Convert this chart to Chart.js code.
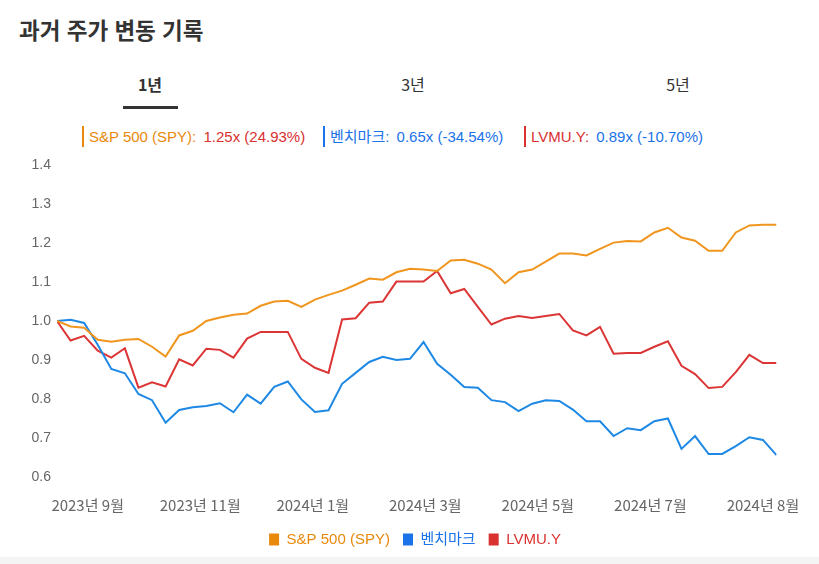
<!DOCTYPE html>
<html lang="ko">
<head>
<meta charset="utf-8">
<script src="https://cdn.jsdelivr.net/npm/chart.js@4.4.1/dist/chart.umd.min.js"></script>
<style>
  html, body { margin: 0; padding: 0; background: #fff; }
  body { width: 819px; height: 564px; position: relative; overflow: hidden; font-family: "Liberation Sans", Arial, "Noto Sans CJK KR", sans-serif; }
  #title { position: absolute; left: 19px; top: 13px; font-family: "Noto Sans CJK KR", sans-serif; font-weight: 700; font-size: 22.5px; color: #333; }
  .tab { position: absolute; top: 72px; font-family: "Noto Sans CJK KR", sans-serif; font-size: 16px; color: #333; transform: translateX(-50%); }
  .tab.active { font-weight: 700; }
  #underline { position: absolute; left: 123px; top: 106px; width: 55px; height: 3px; background: #333; }
  #header { position: absolute; top: 126px; left: 0; height: 21px; }
  .hitem { position: absolute; top: 0; height: 21px; white-space: nowrap; font-size: 15px; line-height: 21px; padding-left: 7px; }
  .hitem .val { margin-left: 3px; }
  .hbar { position: absolute; left: 0; top: 0; width: 2px; height: 21px; }
  #wrap { position: absolute; left: 0; top: 150px; width: 819px; height: 407px; }
  #band { position: absolute; left: 0; top: 557px; width: 819px; height: 7px; background: #f4f4f4; }
</style>
</head>
<body>
<div id="title">과거 주가 변동 기록</div>
<div class="tab active" style="left:150px">1년</div>
<div class="tab" style="left:413px">3년</div>
<div class="tab" style="left:678px">5년</div>
<div id="underline"></div>
<div id="header"></div>
<div id="wrap"><canvas id="c"></canvas></div>
<div id="band"></div>
<script>
// ---- data ----
const seriesNames = ["S&P 500 (SPY)", "벤치마크", "LVMU.Y"];
const headerValues = ["1.25x (24.93%)", "0.65x (-34.54%)", "0.89x (-10.70%)"];
const tickLabels = ["2023년 9월", "2023년 11월", "2024년 1월", "2024년 3월", "2024년 5월", "2024년 7월", "2024년 8월"];
const tickPositions = [2.26, 10.55, 18.84, 27.13, 35.42, 43.71, 52.0];

const spy = [1.000, 0.986, 0.983, 0.952, 0.947, 0.952, 0.954, 0.934, 0.909, 0.963,
  0.975, 1.000, 1.009, 1.016, 1.019, 1.039, 1.050, 1.052, 1.036, 1.055,
  1.067, 1.078, 1.093, 1.109, 1.106, 1.125, 1.134, 1.132, 1.128, 1.155,
  1.157, 1.147, 1.132, 1.097, 1.125, 1.132, 1.152, 1.173, 1.173, 1.168,
  1.185, 1.201, 1.205, 1.204, 1.227, 1.239, 1.214, 1.206, 1.180, 1.180,
  1.227, 1.245, 1.247, 1.247];
const benchmark = [1.000, 1.003, 0.995, 0.939, 0.877, 0.866, 0.813, 0.797, 0.739, 0.772,
  0.779, 0.782, 0.789, 0.766, 0.811, 0.788, 0.831, 0.845, 0.799, 0.767,
  0.771, 0.839, 0.867, 0.895, 0.908, 0.900, 0.903, 0.946, 0.890, 0.862,
  0.831, 0.829, 0.797, 0.792, 0.769, 0.788, 0.797, 0.795, 0.773, 0.743,
  0.743, 0.705, 0.725, 0.720, 0.743, 0.750, 0.672, 0.705, 0.659, 0.659,
  0.679, 0.702, 0.695, 0.656];
const lvmuy = [1.000, 0.950, 0.962, 0.924, 0.906, 0.930, 0.829, 0.843, 0.832, 0.902,
  0.886, 0.929, 0.926, 0.906, 0.955, 0.972, 0.972, 0.972, 0.903, 0.880,
  0.867, 1.004, 1.007, 1.047, 1.050, 1.101, 1.101, 1.101, 1.128, 1.071,
  1.082, 1.036, 0.991, 1.006, 1.013, 1.008, 1.013, 1.018, 0.976, 0.963,
  0.985, 0.916, 0.918, 0.918, 0.934, 0.948, 0.885, 0.864, 0.828, 0.831,
  0.869, 0.913, 0.892, 0.892];
const yTicks = [0.6, 0.7, 0.8, 0.9, 1.0, 1.1, 1.2, 1.3, 1.4];

// ---- styling ----
const lineColors = ["#F0961E", "#1E88E5", "#DC3535"];
const legendColors = ["#E8890C", "#1A73E8", "#D93030"];
const valueColors = ["#D93030", "#1A73E8", "#1A73E8"];

// header legend
const headerLefts = [82, 323, 524];
const header = document.getElementById('header');
seriesNames.forEach((n, i) => {
  const d = document.createElement('div');
  d.className = 'hitem';
  d.style.left = headerLefts[i] + 'px';
  d.innerHTML = '<div class="hbar" style="background:' + legendColors[i] + '"></div>' +
    '<span style="color:' + legendColors[i] + '">' + n + ':</span> ' +
    '<span class="val" style="color:' + valueColors[i] + '">' + headerValues[i] + '</span>';
  header.appendChild(d);
});

const toXY = arr => arr.map((v, i) => ({ x: i, y: v }));
const allSeries = [spy, benchmark, lvmuy];

// shift the bottom legend so it is centred like the reference
const legendShift = {
  id: 'legendShift',
  afterLayout(chart) {
    if (chart.legend) { chart.legend.left += 26; chart.legend.right += 26; }
  }
};

new Chart(document.getElementById('c'), {
  type: 'line',
  data: {
    datasets: allSeries.map((s, i) => ({
      label: seriesNames[i],
      data: toXY(s),
      borderColor: lineColors[i],
      backgroundColor: legendColors[i],
      borderWidth: 2,
      pointRadius: 0,
      tension: 0,
      fill: false
    }))
  },
  plugins: [legendShift],
  options: {
    responsive: true,
    maintainAspectRatio: false,
    animation: false,
    layout: { padding: { left: 0, right: 41, top: 15, bottom: 0 } },
    plugins: {
      tooltip: { enabled: false },
      legend: {
        position: 'bottom',
        labels: {
          boxWidth: 10,
          boxHeight: 12,
          padding: 13,
          font: { size: 15, family: '"Liberation Sans", Arial, "Noto Sans CJK KR", sans-serif' },
          generateLabels: (chart) => chart.data.datasets.map((ds, i) => ({
            text: ds.label,
            fillStyle: legendColors[i],
            strokeStyle: legendColors[i],
            lineWidth: 0,
            fontColor: legendColors[i],
            hidden: false,
            datasetIndex: i
          }))
        }
      }
    },
    scales: {
      x: {
        type: 'linear',
        min: 0,
        max: spy.length - 1,
        grid: { display: false, drawTicks: false },
        border: { display: false },
        afterBuildTicks: (scale) => { scale.ticks = tickPositions.map(v => ({ value: v })); },
        afterFit: (scale) => { scale.height -= 14; },
        ticks: {
          autoSkip: false,
          maxRotation: 0,
          padding: 19,
          color: '#666',
          font: { size: 15, family: '"Noto Sans CJK KR", sans-serif' },
          callback: (value, index) => tickLabels[index]
        }
      },
      y: {
        min: 0.6,
        max: 1.4,
        grid: { display: false, drawTicks: false },
        border: { display: false },
        afterBuildTicks: (scale) => { scale.ticks = yTicks.map(v => ({ value: v })); },
        afterFit: (scale) => { scale.width = 57; },
        ticks: {
          padding: 6,
          color: '#666',
          font: { size: 14, family: '"Liberation Sans", Arial, sans-serif' },
          callback: (value) => value.toFixed(1)
        }
      }
    }
  }
});
</script>
</body>
</html>
